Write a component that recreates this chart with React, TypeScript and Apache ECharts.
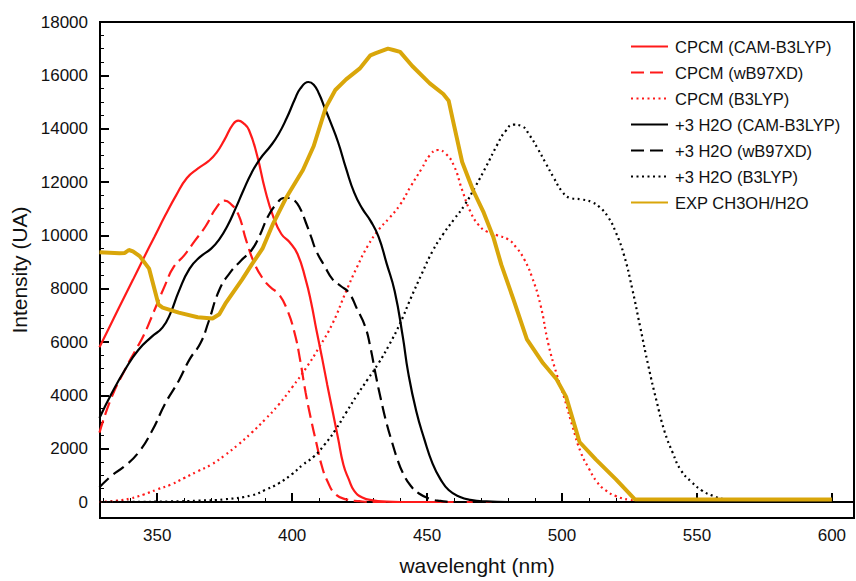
import React, { useEffect, useRef } from "react";
import * as echarts from "echarts";

const X_MIN = 328.8;
const X_MAX = 608.2;
const Y_MIN = -600;
const Y_MAX = 18000;

const xMajorTicks = [350, 400, 450, 500, 550, 600];
const xMinorTicks = [330, 340, 360, 370, 380, 390, 410, 420, 430, 440, 460, 470, 480, 490, 510, 520, 530, 540, 560, 570, 580, 590];
const yMajorTicks = [0, 2000, 4000, 6000, 8000, 10000, 12000, 14000, 16000, 18000];
const yMinorTicks = [500, 1000, 1500, 2500, 3000, 3500, 4500, 5000, 5500, 6500, 7000, 7500, 8500, 9000, 9500, 10500, 11000, 11500, 12500, 13000, 13500, 14500, 15000, 15500, 16500, 17000, 17500];

const seriesNames = [
  "CPCM (CAM-B3LYP)",
  "CPCM (wB97XD)",
  "CPCM (B3LYP)",
  "+3 H2O (CAM-B3LYP)",
  "+3 H2O (wB97XD)",
  "+3 H2O (B3LYP)",
  "EXP CH3OH/H2O",
];

// CPCM (CAM-B3LYP)
const cpcmCamWl = [328.6, 332, 336, 341, 345, 349, 353, 357, 361, 365, 369, 372, 375, 378, 380, 382, 384, 387, 390, 393, 396, 399, 402, 405, 407, 409, 411, 413, 415, 417, 419, 421, 423, 426, 430, 435, 440, 608.2];
const cpcmCamI = [5800, 6500, 7320, 8330, 9150, 9950, 10750, 11500, 12150, 12500, 12780, 13100, 13600, 14150, 14300, 14200, 13950, 13000, 11700, 10700, 10050, 9750, 9300, 8350, 7500, 6450, 5450, 4400, 3400, 2400, 1400, 850, 420, 170, 60, 15, 0, 0];

// CPCM (wB97XD)
const cpcmWbWl = [328.6, 333, 338, 342, 345, 349, 353, 356, 360, 364, 368, 372, 375, 377, 380, 383, 386, 389, 392, 395, 398, 401, 403, 405, 407, 409, 411, 413, 416, 420, 425, 430, 608.2];
const cpcmWbI = [2600, 3900, 4950, 5700, 6250, 7200, 8150, 8800, 9250, 9800, 10350, 11050, 11300, 11200, 10800, 9800, 8950, 8400, 8050, 7800, 7250, 6300, 5300, 4100, 3100, 2200, 1350, 800, 300, 100, 30, 0, 0];

// CPCM (B3LYP)
const cpcmB3Wl = [328.6, 335, 340, 345, 350, 355, 360, 365, 370, 375, 380, 385, 390, 395, 400, 405, 410, 415, 420, 424, 428, 432, 436, 440, 444, 448, 451, 454, 457, 460, 463, 466, 469, 472, 476, 480, 483, 486, 489, 492, 495, 498, 501, 504, 507, 510, 513, 516, 520, 525, 530, 535, 608.2];
const cpcmB3I = [0, 50, 130, 280, 470, 650, 900, 1150, 1400, 1750, 2150, 2600, 3100, 3650, 4300, 5000, 5800, 6700, 7900, 8800, 9600, 10200, 10650, 11150, 11850, 12500, 13000, 13200, 13050, 12600, 11700, 10900, 10400, 10150, 10000, 9850, 9550, 9100, 8400, 7400, 5900, 4800, 3850, 2800, 1850, 1250, 750, 450, 220, 80, 20, 0, 0];

// +3 H2O (CAM-B3LYP)
const h2oCamWl = [328.6, 333, 338, 343, 348, 352, 355, 358, 362, 366, 370, 373, 376, 379, 382, 385, 388, 392, 395, 398, 401, 403, 406, 408, 410, 412, 414, 417, 420, 423, 426, 429, 432, 435, 438, 441, 443, 446, 449, 452, 455, 458, 462, 466, 472, 480, 608.2];
const h2oCamI = [3150, 4050, 4950, 5700, 6200, 6550, 7100, 7900, 8750, 9200, 9500, 9850, 10350, 11000, 11700, 12350, 12850, 13350, 13800, 14400, 15100, 15500, 15750, 15650, 15300, 14800, 14300, 13500, 12500, 11600, 11000, 10550, 9950, 8950, 7900, 6200, 4850, 3400, 2350, 1450, 850, 450, 200, 80, 20, 0, 0];

// +3 H2O (wB97XD)
const h2oWbWl = [328.6, 333, 338, 343, 348, 353, 358, 362, 366, 369, 373, 377, 381, 385, 388, 391, 394, 397, 399, 401, 403, 405, 407, 409, 412, 415, 418, 421, 424, 427, 429, 431, 433, 435, 437, 439, 441, 444, 447, 451, 455, 460, 608.2];
const h2oWbI = [550, 980, 1350, 1850, 2650, 3700, 4550, 5350, 5950, 6750, 7950, 8600, 9050, 9450, 10000, 10700, 11150, 11400, 11400, 11300, 11000, 10500, 9950, 9400, 8850, 8350, 8100, 7850, 7250, 6600, 5800, 4750, 3800, 2950, 2250, 1600, 1100, 600, 320, 120, 40, 0, 0];

// +3 H2O (B3LYP)
const h2oB3Wl = [328.6, 340, 355, 365, 375, 385, 390, 395, 400, 404, 408, 412, 416, 420, 424, 428, 432, 436, 440, 444, 448, 452, 456, 460, 464, 468, 472, 476, 479, 482, 485, 488, 491, 494, 497, 500, 503, 507, 511, 514, 517, 520, 523, 526, 529, 532, 535, 538, 541, 544, 548, 552, 556, 560, 565, 570, 608.2];
const h2oB3I = [0, 5, 20, 50, 100, 250, 450, 700, 1050, 1400, 1700, 2150, 2700, 3350, 4000, 4600, 5200, 5900, 6700, 7650, 8550, 9400, 10050, 10600, 11150, 11850, 12600, 13400, 13900, 14150, 14100, 13750, 13250, 12700, 12150, 11650, 11400, 11350, 11250, 11050, 10700, 10100, 9250, 8000, 6550, 5100, 3800, 2650, 1850, 1200, 750, 420, 230, 100, 30, 0, 0];

// EXP CH3OH/H2O
const expWl = [328.6, 336, 338, 339.5, 341, 343.5, 347, 350.5, 352, 358, 365, 370.5, 373, 375.5, 381.5, 385, 389, 393, 398, 404, 408, 412.5, 416, 420, 425, 429, 431, 435.5, 437.5, 440, 444.5, 451, 456, 458, 459.5, 463, 467, 471, 474.5, 477.5, 482, 487, 493, 498, 501.5, 506.5, 512.5, 520, 527, 600];
const expI = [9370, 9330, 9340, 9450, 9400, 9220, 8750, 7400, 7290, 7100, 6930, 6880, 7040, 7480, 8350, 8900, 9500, 10450, 11450, 12450, 13350, 14800, 15450, 15850, 16250, 16750, 16830, 17000, 16950, 16880, 16350, 15700, 15300, 15050, 14350, 12750, 11700, 10850, 9950, 8900, 7600, 6100, 5200, 4600, 3950, 2250, 1600, 850, 100, 90];

const FONT = "'Liberation Sans', Arial, Helvetica, sans-serif";
const RED = "#ff1a1a";
const BLACK = "#000000";
const GOLD = "#d9a60a";

function pairs(xs: number[], ys: number[]) {
  return xs.map((x, i) => [x, ys[i]]);
}

export default function App() {
  const ref = useRef<HTMLDivElement | null>(null);

  useEffect(() => {
    if (!ref.current) return;
    const chart = echarts.init(ref.current, undefined, { renderer: "svg" });

    const mkLine = (
      name: string,
      xs: number[],
      ys: number[],
      color: string,
      type: any,
      width: number,
      smooth: number | boolean
    ) => ({
      name,
      type: "line",
      data: pairs(xs, ys),
      xAxisIndex: 0,
      yAxisIndex: 0,
      symbol: "none",
      smooth,
      lineStyle: { color, width, type, cap: "butt" },
      itemStyle: { color },
      emphasis: { disabled: true },
    });

    const plain = (v: number) => String(v);

    const option: any = {
      animation: false,
      backgroundColor: "#ffffff",
      grid: {
        left: 100,
        right: 2,
        top: 22,
        bottom: 62,
        show: true,
        borderColor: "#000",
        borderWidth: 2,
        containLabel: false,
      },
      legend: {
        orient: "vertical",
        left: 625,
        top: 33,
        itemWidth: 37,
        itemHeight: 14,
        itemGap: 9,
        data: seriesNames,
        itemStyle: { opacity: 0 },
        textStyle: {
          fontSize: 16.5,
          fontFamily: FONT,
          color: "#111",
          padding: [0, 0, 0, 2],
        },
        selectedMode: false,
      },
      xAxis: [
        {
          type: "value",
          min: X_MIN,
          max: X_MAX,
          position: "bottom",
          splitLine: { show: false },
          axisLine: { show: true, lineStyle: { color: "#000", width: 2 } },
          axisTick: {
            show: true,
            inside: true,
            length: 9,
            customValues: xMajorTicks,
            lineStyle: { color: "#000", width: 2 },
          },
          axisLabel: {
            show: true,
            customValues: xMajorTicks,
            formatter: plain,
            margin: 9,
            fontSize: 17,
            fontFamily: FONT,
            color: "#111",
          },
          name: "wavelenght (nm)",
          nameLocation: "middle",
          nameGap: 37,
          nameTextStyle: { fontSize: 21, fontFamily: FONT, color: "#111" },
        },
        {
          type: "value",
          min: X_MIN,
          max: X_MAX,
          position: "bottom",
          splitLine: { show: false },
          axisLine: { show: false },
          axisTick: {
            show: true,
            inside: true,
            length: 4,
            customValues: xMinorTicks,
            lineStyle: { color: "#000", width: 1 },
          },
          axisLabel: { show: false },
        },
      ],
      yAxis: [
        {
          type: "value",
          min: Y_MIN,
          max: Y_MAX,
          position: "left",
          splitLine: { show: false },
          axisLine: { show: true, lineStyle: { color: "#000", width: 2 } },
          axisTick: {
            show: true,
            inside: true,
            length: 9,
            customValues: yMajorTicks,
            lineStyle: { color: "#000", width: 2 },
          },
          axisLabel: {
            show: true,
            customValues: yMajorTicks,
            formatter: plain,
            margin: 12,
            fontSize: 17,
            fontFamily: FONT,
            color: "#111",
          },
          name: "Intensity (UA)",
          nameLocation: "middle",
          nameGap: 62,
          nameRotate: 90,
          nameTextStyle: { fontSize: 21, fontFamily: FONT, color: "#111" },
        },
        {
          type: "value",
          min: Y_MIN,
          max: Y_MAX,
          position: "left",
          splitLine: { show: false },
          axisLine: { show: false },
          axisTick: {
            show: true,
            inside: true,
            length: 4,
            customValues: yMinorTicks,
            lineStyle: { color: "#000", width: 1 },
          },
          axisLabel: { show: false },
        },
      ],
      series: [
        mkLine(seriesNames[0], cpcmCamWl, cpcmCamI, RED, "solid", 2.2, 0.5),
        mkLine(seriesNames[1], cpcmWbWl, cpcmWbI, RED, [13, 6], 2.2, 0.5),
        mkLine(seriesNames[2], cpcmB3Wl, cpcmB3I, RED, [2, 3.5], 2.2, 0.5),
        mkLine(seriesNames[3], h2oCamWl, h2oCamI, BLACK, "solid", 2.2, 0.5),
        mkLine(seriesNames[4], h2oWbWl, h2oWbI, BLACK, [13, 6], 2.2, 0.5),
        mkLine(seriesNames[5], h2oB3Wl, h2oB3I, BLACK, [2, 3.5], 2.2, 0.5),
        mkLine(seriesNames[6], expWl, expI, GOLD, "solid", 4, false),
      ],
    };

    chart.setOption(option);
    return () => {
      chart.dispose();
    };
  }, []);

  return (
    <div
      ref={ref}
      style={{ position: "absolute", left: 0, top: 0, width: 856, height: 581, background: "#fff" }}
    />
  );
}
